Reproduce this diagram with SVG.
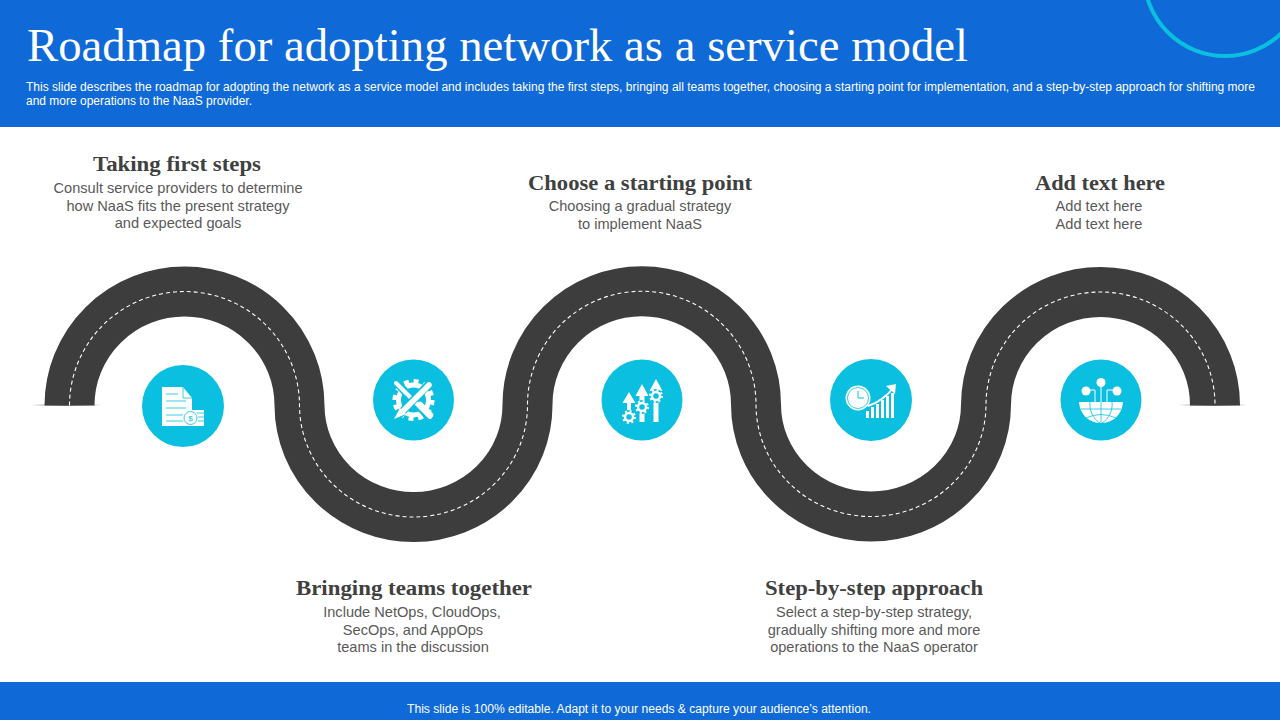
<svg xmlns="http://www.w3.org/2000/svg" width="1280" height="720" viewBox="0 0 1280 720">
<defs>
<linearGradient id="sh" x1="0" x2="1" y1="0" y2="0"><stop offset="0" stop-color="#999" stop-opacity="0"/><stop offset="0.5" stop-color="#888"/><stop offset="1" stop-color="#999" stop-opacity="0"/></linearGradient>
</defs>
<style>
.band{fill:#0f69d6}
.title{font:46px "Liberation Serif",serif;fill:#fff}
.sub{font:12px "Liberation Sans",Arial,sans-serif;fill:#fff}
.foot{font:12px "Liberation Sans",Arial,sans-serif;fill:#fff;text-anchor:middle}
.h{font:bold 20px "Liberation Serif",serif;fill:#404040;text-anchor:middle}
.b{font:14.6px "Liberation Sans",Arial,sans-serif;fill:#595959;text-anchor:middle}
.road{fill:none;stroke:#3d3d3d;stroke-width:50}
.lane{fill:none;stroke:#fff;stroke-width:1.1;stroke-dasharray:4 3}
.disc{fill:#0abfdf}
.w{fill:#fff}
.wl{fill:none;stroke:#fff}
.cl{fill:none;stroke:#0abfdf}
</style>
<rect width="1280" height="720" fill="#fff"/>
<rect class="band" width="1280" height="127"/>
<rect class="band" y="682" width="1280" height="38"/>
<circle cx="1225" cy="-25" r="81" fill="none" stroke="#0abfdf" stroke-width="4"/>
<text class="title" x="27" y="61" textLength="941" lengthAdjust="spacingAndGlyphs">Roadmap for adopting network as a service model</text>
<text class="sub" x="26" y="91" textLength="1229" lengthAdjust="spacingAndGlyphs">This slide describes the roadmap for adopting the network as a service model and includes taking the first steps, bringing all teams together, choosing a starting point for implementation, and a step-by-step approach for shifting more</text>
<text class="sub" x="26" y="105" textLength="226" lengthAdjust="spacingAndGlyphs">and more operations to the NaaS provider.</text>
<text class="foot" x="639" y="713" textLength="464" lengthAdjust="spacingAndGlyphs">This slide is 100% editable. Adapt it to your needs &amp; capture your audience’s attention.</text>

<g id="connectors">
<rect x="30" y="404" width="72" height="2" fill="url(#sh)"/>
<rect x="1178" y="404" width="70" height="2" fill="url(#sh)"/>
<path class="road" d="M69.500 405.500A115 114 0 0 1 299.500 405.500A114 112 0 0 0 527.500 404.500A114 113 0 0 1 756 404.500A115 112 0 0 0 986 404.500A114.500 113 0 0 1 1215 405.500"/>
<path class="lane" d="M69.500 405.500A115 114 0 0 1 299.500 405.500A114 112 0 0 0 527.500 404.500A114 113 0 0 1 756 404.500A115 112 0 0 0 986 404.500A114.500 113 0 0 1 1215 405.500"/>
</g>

<g id="node-1">
<text class="h" x="177" y="171" textLength="168" lengthAdjust="spacingAndGlyphs">Taking first steps</text>
<text class="b" x="178" y="193">Consult service providers to determine</text>
<text class="b" x="178" y="211">how NaaS fits the present strategy</text>
<text class="b" x="178" y="228">and expected goals</text>
<circle class="disc" cx="183" cy="406" r="41"/>
<path class="w" d="M162 387H183L192 398V426H162Z"/>
<path class="cl" stroke-width="0.800" d="M183 387V398H192M166 394H178M166 401H186M166 408H186M166 415H184M166 421H184"/>
<rect class="w" x="190" y="410" width="14" height="16"/>
<path class="cl" stroke-width="0.800" d="M190 413H204M190 417H204M190 421H204"/>
<circle class="w" cx="190.500" cy="418" r="8"/>
<circle class="cl" stroke-width="0.800" cx="190.500" cy="418" r="6.500"/>
<text x="190.500" y="421" font-family="Liberation Sans,sans-serif" font-size="8" fill="#0abfdf" text-anchor="middle">$</text>
</g>

<g id="node-2">
<text class="h" x="414" y="595" textLength="236" lengthAdjust="spacingAndGlyphs">Bringing teams together</text>
<text class="b" x="412" y="617">Include NetOps, CloudOps,</text>
<text class="b" x="413" y="635">SecOps, and AppOps</text>
<text class="b" x="413" y="652">teams in the discussion</text>
<circle class="disc" cx="413.500" cy="400" r="40.500"/>
<circle class="wl" cx="413.500" cy="400" r="15" stroke-width="5"/>
<circle class="wl" cx="413.500" cy="400" r="19" stroke-width="4" stroke-dasharray="5 4.900"/>
<path d="M395 381L432 420" stroke="#0abfdf" stroke-width="8"/>
<path d="M396 383L430 417" stroke="#fff" stroke-width="4" stroke-linecap="round"/>
<path d="M420 405L430 415" stroke="#fff" stroke-width="6.500" stroke-linecap="round"/>
<path d="M431 382L397 417" stroke="#0abfdf" stroke-width="8"/>
<path d="M429 385L403 411" stroke="#fff" stroke-width="5.500" stroke-linecap="round"/>
<path class="w" d="M400 408L406 414L394 419Z"/>
</g>

<g id="node-3">
<text class="h" x="640" y="190" textLength="224" lengthAdjust="spacingAndGlyphs">Choose a starting point</text>
<text class="b" x="640" y="211">Choosing a gradual strategy</text>
<text class="b" x="640" y="229">to implement NaaS</text>
<circle class="disc" cx="642" cy="400" r="40.500"/>
<path class="w" d="M629 392L635.500 403H631V411H627V403H622.500Z"/>
<path class="w" d="M642 384L648.500 396H644.500V402H639.500V396H635.500Z"/>
<path class="w" d="M656 379L662.500 391H658.500V422H653.500V391H649.500Z"/>
<rect class="w" x="639.500" y="408" width="5" height="14"/>
<circle cx="629" cy="417" r="7" fill="#0abfdf"/>
<circle class="wl" cx="629" cy="417" r="4" stroke-width="2.500"/>
<circle class="wl" cx="629" cy="417" r="6" stroke-width="2" stroke-dasharray="2 2.700"/>
<circle cx="642" cy="407" r="7" fill="#0abfdf"/>
<circle class="wl" cx="642" cy="407" r="4" stroke-width="2.500"/>
<circle class="wl" cx="642" cy="407" r="6" stroke-width="2" stroke-dasharray="2 2.700"/>
<circle cx="656" cy="396" r="7" fill="#0abfdf"/>
<circle class="wl" cx="656" cy="396" r="4" stroke-width="2.500"/>
<circle class="wl" cx="656" cy="396" r="6" stroke-width="2" stroke-dasharray="2 2.700"/>
</g>

<g id="node-4">
<text class="h" x="874" y="595" textLength="218" lengthAdjust="spacingAndGlyphs">Step-by-step approach</text>
<text class="b" x="874" y="617">Select a step-by-step strategy,</text>
<text class="b" x="874" y="635">gradually shifting more and more</text>
<text class="b" x="874" y="652">operations to the NaaS operator</text>
<circle class="disc" cx="871" cy="400" r="41"/>
<circle class="w" cx="858" cy="398" r="12.500"/>
<circle class="cl" stroke-width="0.800" cx="858" cy="398" r="10.500"/>
<path class="cl" stroke-width="1" d="M858 391V398H864"/>
<path class="w" d="M866 411h3v7h-3zM871 407h3v11h-3zM876 404h3v14h-3zM881 400h3v18h-3zM886 396h3v22h-3zM891 393h3v25h-3z"/>
<path class="wl" stroke-width="2" d="M868 406C878 403 888 395 893 388"/>
<path class="w" d="M886 386L896 384L895 394Z"/>
</g>

<g id="node-5">
<text class="h" x="1100" y="190" textLength="130" lengthAdjust="spacingAndGlyphs">Add text here</text>
<text class="b" x="1099" y="211">Add text here</text>
<text class="b" x="1099" y="229">Add text here</text>
<circle class="disc" cx="1101" cy="400" r="40.500"/>
<path class="w" d="M1079 402H1123C1122 415 1113 423 1101 423C1089 423 1080 415 1079 402Z"/>
<path class="cl" stroke-width="0.800" d="M1101 402V423M1090 402C1089 410 1093 419 1100 423M1112 402C1113 410 1109 419 1102 423M1081 409H1121M1086 418Q1101 411 1116 418"/>
<circle class="w" cx="1086" cy="391" r="4.500"/>
<circle class="w" cx="1101" cy="382.500" r="4.500"/>
<circle class="w" cx="1117" cy="391" r="4.500"/>
<path class="wl" stroke-width="1" d="M1090 390H1095V402M1101 386V402M1113 390H1107V402"/>
</g>
</svg>
